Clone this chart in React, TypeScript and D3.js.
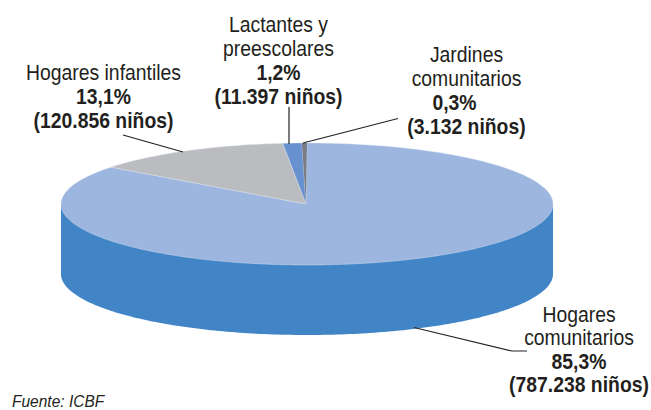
import React from "react";
import * as d3 from "d3";

const categories = ["Hogares comunitarios", "Hogares infantiles", "Lactantes y preescolares", "Jardines comunitarios"];
const children = [787238, 120856, 11397, 3132];
const colors = ["#9db6df", "#bbbcc0", "#6792cf", "#7a7d85"];
const sideColor = "#4285c7";
const source = "Fuente: ICBF";

const labelNames = [["Hogares infantiles"], ["Lactantes y", "preescolares"], ["Jardines", "comunitarios"], ["Hogares", "comunitarios"]];
const labelPcts = ["13,1%", "1,2%", "0,3%", "85,3%"];
const labelCounts = ["(120.856 niños)", "(11.397 niños)", "(3.132 niños)", "(787.238 niños)"];

const labelLayout = [
  { x: 103.5, y: 80, step: 24, pctDx: 0 },
  { x: 278.5, y: 32, step: 24, pctDx: 0 },
  { x: 466.5, y: 62, step: 24, pctDx: -12 },
  { x: 579, y: 322, step: 23.5, pctDx: 0 },
];

const leaders = [
  [[123, 135], [183, 152]],
  [[289, 107], [289, 144]],
  [[398, 118.5], [303, 143]],
  [[414, 327.5], [512, 351], [527, 351]],
];

const W = 651, H = 410, cx = 307, cy = 204, rx = 246, ry = 61, depth = 70;

export default function App() {
  const x = d3.scaleLinear().domain([-1, 1]).range([cx - rx, cx + rx]);
  const y = d3.scaleLinear().domain([-1, 1]).range([cy - ry, cy + ry]);
  const pie = d3.pie<number>().sort(null).startAngle(0).endAngle(2 * Math.PI);
  const arcs = pie(children);
  const line = d3.line();

  const slice = (a0: number, a1: number) => {
    const p = d3.path();
    const n = Math.max(2, Math.ceil((a1 - a0) * 60));
    p.moveTo(x(0) - 1, y(0));
    d3.range(n + 1).forEach((i) => {
      const a = a0 + ((a1 - a0) * i) / n;
      p.lineTo(x(Math.sin(a)), y(-Math.cos(a)));
    });
    p.closePath();
    return p.toString();
  };

  const sidePath = () => {
    const p = d3.path();
    p.moveTo(cx - rx, cy);
    p.lineTo(cx - rx, cy + depth);
    const n = 180;
    d3.range(n + 1).forEach((i) => {
      const a = Math.PI - (Math.PI * i) / n;
      p.lineTo(cx + rx * Math.cos(a), cy + depth + ry * Math.sin(a));
    });
    p.lineTo(cx + rx, cy);
    p.closePath();
    return p.toString();
  };

  const font = "'Liberation Sans', Arial, sans-serif";
  return (
    <svg width={W} height={H} style={{ position: "absolute", left: 0, top: 0, background: "#fff" }}>
      <path d={sidePath()} fill={sideColor} />
      {arcs.map((a, i) => (
        <path key={categories[i]} d={slice(a.startAngle, a.endAngle)} fill={colors[i]} stroke={i === 3 ? "none" : "#dfe5f0"} strokeWidth={0.4} />
      ))}
      {leaders.map((l, i) => (
        <path key={i} d={line(l as [number, number][]) ?? ""} fill="none" stroke="#222" strokeWidth={1.2} />
      ))}
      {labelLayout.map((l, k) => {
        const rows = [
          ...labelNames[k].map((t) => ({ t, b: false, dx: 0 })),
          { t: labelPcts[k], b: true, dx: l.pctDx },
          { t: labelCounts[k], b: true, dx: 0 },
        ];
        return (
          <text key={k} textAnchor="middle" fontFamily={font} fontSize={22} fill="#231f20" transform={`translate(${l.x},${l.y}) scale(0.88,1)`}>
            {rows.map((r, i) => (
              <tspan key={i} x={r.dx / 0.88} y={i * l.step} fontWeight={r.b ? 700 : 400}>{r.t}</tspan>
            ))}
          </text>
        );
      })}
      <text fontFamily={font} fontSize={16} fontStyle="italic" fill="#231f20" transform="translate(12,406.5) scale(0.97,1)">{source}</text>
    </svg>
  );
}
